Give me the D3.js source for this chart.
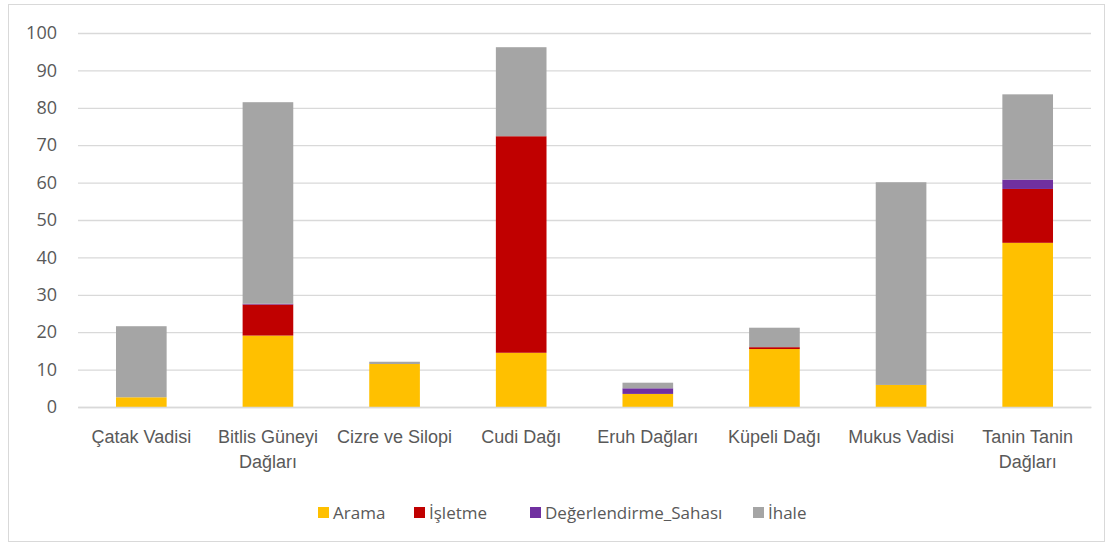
<!DOCTYPE html>
<html>
<head>
<meta charset="utf-8">
<script src="https://cdn.jsdelivr.net/npm/d3@7"></script>
<style>
  body { margin: 0; background: #fff; }
  svg { display: block; font-family: "Open Sans", "Noto Sans", sans-serif; }
</style>
</head>
<body>
<div id="chart"></div>
<script>
// data
const categories = ["Çatak Vadisi", "Bitlis Güneyi Dağları", "Cizre ve Silopi", "Cudi Dağı",
  "Eruh Dağları", "Küpeli Dağı", "Mukus Vadisi", "Tanin Tanin Dağları"];
const categoryLines = [["Çatak Vadisi"], ["Bitlis Güneyi", "Dağları"], ["Cizre ve Silopi"], ["Cudi Dağı"],
  ["Eruh Dağları"], ["Küpeli Dağı"], ["Mukus Vadisi"], ["Tanin Tanin", "Dağları"]];
const seriesNames = ["Arama", "İşletme", "Değerlendirme_Sahası", "İhale"];
const arama = [2.6, 19.1, 11.5, 14.5, 3.5, 15.5, 5.9, 43.9];
const isletme = [0, 8.3, 0, 57.9, 0, 0.5, 0, 14.4];
const degerlendirme = [0, 0.2, 0, 0, 1.5, 0, 0, 2.5];
const ihale = [19.0, 53.9, 0.6, 23.8, 1.5, 5.2, 54.2, 22.8];
const yTicks = [0, 10, 20, 30, 40, 50, 60, 70, 80, 90, 100];

const colors = ["#FFC000", "#C00000", "#7030A0", "#A5A5A5"];

const W = 1113, H = 548;
const margin = { top: 33, right: 22, bottom: 141, left: 78 };
const fontSize = 18;

const table = categories.map((c, i) => ({
  cat: c,
  "Arama": arama[i],
  "İşletme": isletme[i],
  "Değerlendirme_Sahası": degerlendirme[i],
  "İhale": ihale[i]
}));
const stacked = d3.stack().keys(seriesNames)(table);

const svg = d3.select("#chart").append("svg")
  .attr("width", W).attr("height", H)
  .attr("viewBox", [0, 0, W, H]);

svg.append("rect")
  .attr("x", 8.5).attr("y", 4.5)
  .attr("width", 1096).attr("height", 537)
  .attr("fill", "#fff").attr("stroke", "#D9D9D9");

const x = d3.scaleBand()
  .domain(categories)
  .range([margin.left, W - margin.right])
  .paddingInner(0.6).paddingOuter(0.3);

const y = d3.scaleLinear()
  .domain([0, 100])
  .range([H - margin.bottom, margin.top]);

// grid
const gy = svg.append("g")
  .attr("transform", `translate(${margin.left},0)`)
  .call(d3.axisLeft(y).tickValues(yTicks).tickSize(-(W - margin.left - margin.right)).tickPadding(21))
  .call(g => g.select(".domain").remove());
gy.selectAll(".tick line").attr("stroke", "#D9D9D9").attr("stroke-width", 1.3);
gy.selectAll(".tick text")
  .attr("fill", "#595959").attr("font-size", fontSize)
  .attr("font-family", "'Open Sans', sans-serif");

// bars
svg.append("g").selectAll("g")
  .data(stacked)
  .join("g")
  .attr("fill", (d, i) => colors[i])
  .selectAll("rect")
  .data(d => d)
  .join("rect")
  .attr("x", d => x(d.data.cat))
  .attr("width", x.bandwidth())
  .attr("y", d => y(d[1]))
  .attr("height", d => y(d[0]) - y(d[1]));

// x axis labels
const xl = svg.append("g")
  .attr("transform", `translate(0,${H - margin.bottom})`)
  .call(d3.axisBottom(x).tickSize(0).tickFormat(""))
  .call(g => g.select(".domain").attr("stroke", "#D9D9D9").attr("stroke-width", 1.3));

xl.selectAll(".tick text").remove();
xl.selectAll(".tick").append("text")
  .attr("fill", "#595959")
  .attr("font-size", fontSize)
  .attr("text-anchor", "middle")
  .selectAll("tspan")
  .data((d, i) => categoryLines[categories.indexOf(d)])
  .join("tspan")
  .attr("x", 0)
  .attr("y", (d, i) => 36 + i * 25)
  .text(d => d);

// legend
const legendX = [318, 414, 530, 753];
const legend = svg.append("g").selectAll("g")
  .data(seriesNames)
  .join("g")
  .attr("transform", (d, i) => `translate(${legendX[i]},512)`);
legend.append("rect")
  .attr("x", 0).attr("y", -5)
  .attr("width", 11).attr("height", 11)
  .attr("fill", (d, i) => colors[i]);
legend.append("text")
  .attr("x", 15).attr("y", 6.5)
  .attr("fill", "#595959")
  .attr("font-size", 17)
  .text(d => d);
</script>
</body>
</html>
